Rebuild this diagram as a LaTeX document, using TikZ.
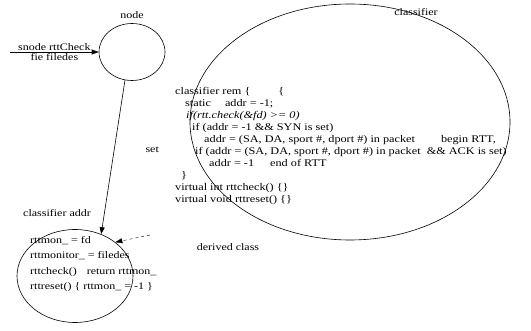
\documentclass[tikz,border=0pt]{standalone}
\usepackage{fontspec}
\setmainfont{Liberation Serif}[FakeStretch=1.2]
\usetikzlibrary{positioning}
\usetikzlibrary{calc}
\usetikzlibrary{arrows.meta}
\usetikzlibrary{shapes.geometric}

\tikzset{
	obj/.style={ellipse, draw, semithick, inner sep=0pt},
	lbl/.style={inner sep=1pt, font=\fontsize{10}{11}\selectfont},
	code/.style={inner sep=0pt, align=left, anchor=north west, font=\fontsize{10.2}{12}\selectfont},
	link/.style={semithick, -{Triangle[length=7pt, width=5pt]}}
}

\begin{document}
\begin{tikzpicture}[x=1pt, y=-1pt]
				\useasboundingbox (0,0) rectangle (531,331);
				% nodes
				\node[obj, minimum width=66pt, minimum height=57pt] (node) at (132,52) {};
				\node[lbl, above = 3pt of node] (nodelbl) {node};

				\node[obj, minimum width=320pt, minimum height=236pt] (cls) at (350,122) {};
				\node[lbl] (clslbl) at (416,12) {classifier};

				\node[obj, minimum width=116pt, minimum height=93pt] (addr) at (75,276) {};
				\node[lbl] (addrlbl) at (57,213) {classifier addr};

				\node[code] (clscode) at (175,87) {classifier rem \{\hspace{28pt}\{\\
					\hspace*{10pt}static\hspace{14pt}addr = -1;\\
					\hspace*{11pt}\textit{if(rtt.check(\&fd) >= 0)}\\
					\hspace*{17pt}if (addr = -1 \&\& SYN is set)\\
					\hspace*{29pt}addr = (SA, DA, sport \#, dport \#) in packet\hspace{26pt}begin RTT,\\
					\hspace*{20pt}if (addr = (SA, DA, sport \#, dport \#) in packet \ \&\& ACK is set)\\
					\hspace*{34pt}addr = -1\hspace{16pt}end of RTT\\
					\hspace*{6pt}\}\\
					virtual int rttcheck() \{\}\\
					virtual void rttreset() \{\}};

				\node[code, font=\fontsize{10}{15.5}\selectfont] (addrcode) at (30,236) {rttmon\_ = fd\\
					rttmonitor\_ = filedes\\
					rttcheck()\hspace{10pt}return rttmon\_\\
					rttreset() \{ rttmon\_ = -1 \}};

				\node[lbl] (derived) at (228,247) {derived class};

				% edges
				\coordinate (in) at (10,52);
				\draw[link] (in) -- (node.west)
					node[lbl, midway, above]{snode rttCheck}
					node[lbl, midway, below]{fie filedes};

				\draw[link] (node.256) -- (addr.58)
					node[lbl, pos=0.45, right=30pt]{set};

				\coordinate (dc) at (150,235);
				\draw[link, thin, dashed] (dc) -- (addr.40);
\end{tikzpicture}
\end{document}
